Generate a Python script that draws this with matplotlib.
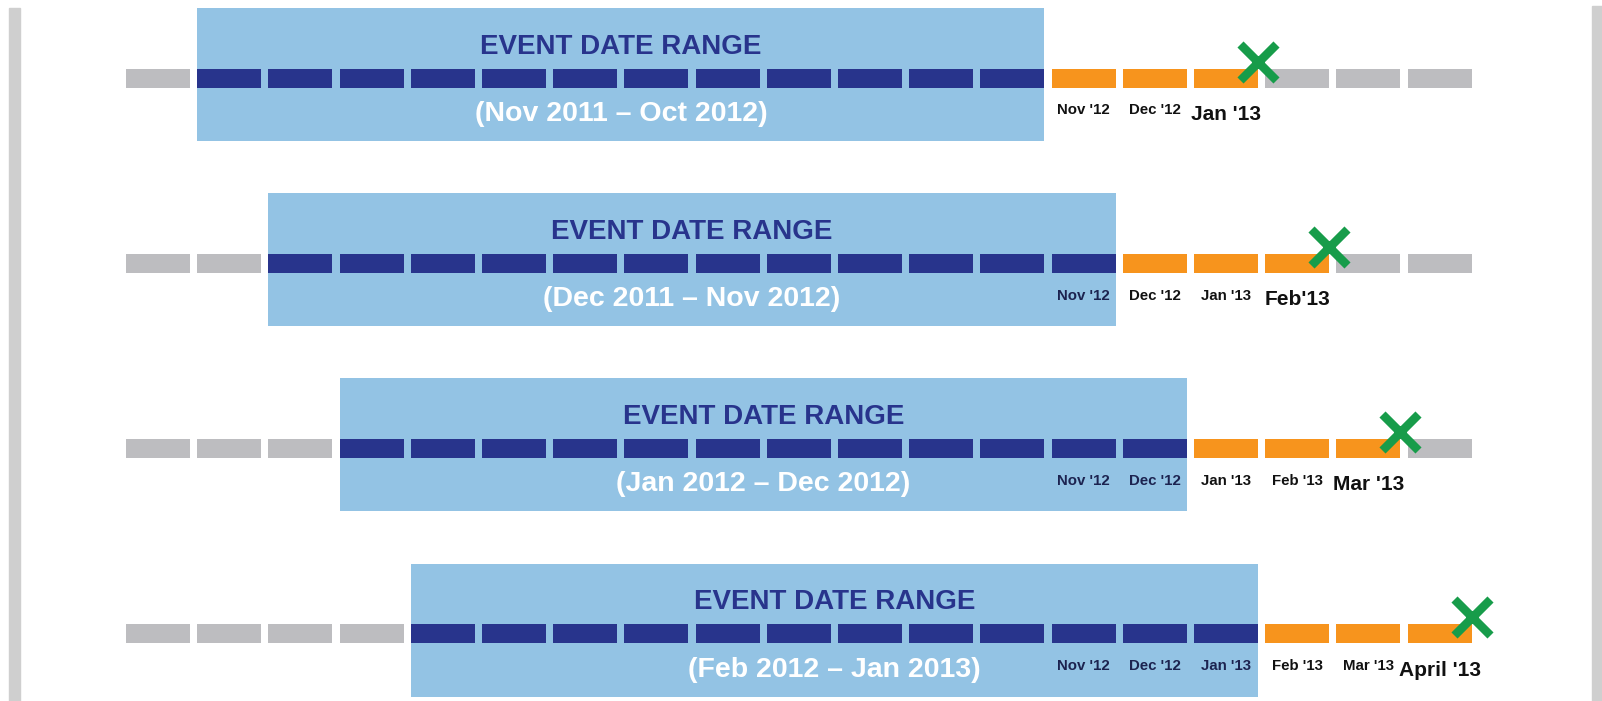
"""Rolling 12-month event window timeline with a 3-month lag."""

import matplotlib
matplotlib.use("Agg")
import matplotlib.pyplot as plt
from matplotlib.patches import Rectangle

# --- data -------------------------------------------------------------------
# 19 monthly slots on the timeline, Oct 2011 .. Apr 2013
timeline = ["Oct '11", "Nov '11", "Dec '11", "Jan '12", "Feb '12", "Mar '12",
            "Apr '12", "May '12", "Jun '12", "Jul '12", "Aug '12", "Sep '12",
            "Oct '12", "Nov '12", "Dec '12", "Jan '13", "Feb '13", "Mar '13",
            "Apr '13"]
window_start = [1, 2, 3, 4]          # slot index of the first event month
window_len = 12                      # months in the event date range
lag_len = 3                          # months after the range (orange)
range_titles = ["EVENT DATE RANGE"] * 4
range_labels = ["(Nov 2011 – Oct 2012)", "(Dec 2011 – Nov 2012)",
                "(Jan 2012 – Dec 2012)", "(Feb 2012 – Jan 2013)"]
label_from = 13                      # first slot that gets a month label
month_labels = [
    ["Nov '12", "Dec '12", "Jan '13"],
    ["Nov '12", "Dec '12", "Jan '13", "Feb'13"],
    ["Nov '12", "Dec '12", "Jan '13", "Feb '13", "Mar '13"],
    ["Nov '12", "Dec '12", "Jan '13", "Feb '13", "Mar '13", "April '13"],
]

# --- style ------------------------------------------------------------------
GRAY = "#bdbdc0"
NAVY = "#28348c"
ORANGE = "#f7941d"
BOX = "#93c3e4"
GREEN = "#179c4a"
SIDE = "#cfcfcf"
FONT = "Liberation Sans"

W_PX, H_PX = 1602, 701
PITCH = 71.2        # px per month slot
X0 = 126.0          # px of slot 0 left edge
ROW = 185.2         # px between rows
Y0 = 78.0           # px of first row centre
SEG = 0.9           # segment width in slot units


def px(v):
    """Vertical pixel offset -> row units."""
    return v / ROW


fig = plt.figure(figsize=(W_PX / 100, H_PX / 100), dpi=100)
ax = fig.add_axes([0, 0, 1, 1])
ax.set_xlim(-X0 / PITCH, (W_PX - X0) / PITCH)
ax.set_ylim((H_PX - Y0) / ROW, -Y0 / ROW)
ax.axis("off")

# side rails
fig.patches.append(Rectangle((9 / W_PX, 0), 11 / W_PX, 1 - 8 / H_PX,
                             transform=fig.transFigure, color=SIDE, zorder=0))
fig.patches.append(Rectangle((1592 / W_PX, 0), 10 / W_PX, 1 - 6 / H_PX,
                             transform=fig.transFigure, color=SIDE, zorder=0))

n = len(timeline)
for row, start in enumerate(window_start):
    colors = []
    for i in range(n):
        if start <= i < start + window_len:
            colors.append(NAVY)
        elif start + window_len <= i < start + window_len + lag_len:
            colors.append(ORANGE)
        else:
            colors.append(GRAY)

    # event range box
    ax.add_patch(Rectangle((start, row - px(70)), window_len - 1 + SEG,
                           px(133), color=BOX, zorder=1, lw=0))
    mid = start + (window_len - 1 + SEG) / 2
    ax.text(mid, row - px(31.5), range_titles[row], color=NAVY,
            fontsize=20, fontweight="bold", family=FONT,
            ha="center", va="center", zorder=3)
    ax.text(mid, row + px(36), range_labels[row], color="white",
            fontsize=20.5, fontweight="bold", family=FONT,
            ha="center", va="center", zorder=3)

    ax.barh(row, SEG, left=list(range(n)), height=px(19), align="center",
            color=colors, zorder=2, lw=0)

    # month labels, last one is larger
    labels = month_labels[row]
    for k, lab in enumerate(labels):
        slot = label_from + k
        big = k == len(labels) - 1
        inside = slot < start + window_len
        ax.text(slot + SEG / 2, row + px(42 if big else 36.5), lab,
                fontsize=15 if big else 10.8, fontweight="bold", family=FONT,
                color="#1c2350" if inside else "#111111",
                ha="center", va="baseline", zorder=3)

    # cross at end of lag period
    end = start + window_len + lag_len - 1 + SEG
    ax.plot(end, row - px(16.5), marker="x", markersize=26,
            markeredgewidth=6.2, color=GREEN, zorder=4)

fig.savefig("out.png", dpi=100)
